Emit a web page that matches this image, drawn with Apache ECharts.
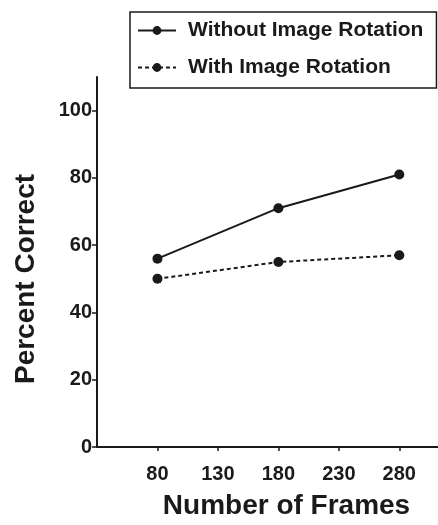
<!DOCTYPE html>
<html>
<head>
<meta charset="utf-8">
<script src="https://cdn.jsdelivr.net/npm/echarts@6/dist/echarts.min.js"></script>
<style>
  html, body { margin: 0; padding: 0; background: #fff; }
  #chart { width: 438px; height: 525px; }
</style>
</head>
<body>
<div id="chart"></div>
<script>
// values
var frames = [80, 180, 280]
var withoutRotation = [56, 71, 81]
var withRotation = [50, 55, 57]
var xTicks = [80, 130, 180, 230, 280]
var yTicks = [0, 20, 40, 60, 80, 100]

var ink = '#1a1a1a'
var font = 'Liberation Sans'

function pairs(xs, ys) {
  return xs.map(function(x, i) { return [x, ys[i]] })
}

var chart = echarts.init(document.getElementById('chart'))

chart.setOption({
  backgroundColor: '#fff',
  animation: false,
  legend: {
    left: 130,
    top: 12,
    orient: 'vertical',
    padding: [8, 13, 10, 7],
    itemGap: 16,
    itemWidth: 38,
    itemHeight: 11,
    borderColor: ink,
    borderWidth: 1.5,
    textStyle: {
      color: ink,
      fontFamily: font,
      fontWeight: 'bold',
      fontSize: 21,
      padding: [0, 0, 0, 7]
    },
    data: ['Without Image Rotation', 'With Image Rotation']
  },
  grid: {
    left: 97,
    right: 0,
    top: 77,
    bottom: 68
  },
  xAxis: {
    type: 'value',
    min: 30,
    max: 312,
    name: 'Number of Frames',
    nameLocation: 'middle',
    nameGap: 45,
    nameTextStyle: {
      color: ink,
      fontFamily: font,
      fontWeight: 'bold',
      fontSize: 28,
      padding: [0, 0, 0, 38]
    },
    splitLine: { show: false },
    axisLine: { lineStyle: { color: ink, width: 2 } },
    axisTick: {
      customValues: xTicks,
      length: 4,
      lineStyle: { color: ink, width: 1.5 }
    },
    axisLabel: {
      customValues: xTicks,
      margin: 17,
      color: ink,
      fontFamily: font,
      fontWeight: 'bold',
      fontSize: 20
    }
  },
  yAxis: {
    type: 'value',
    min: 0,
    max: 110,
    name: 'Percent Correct',
    nameLocation: 'middle',
    nameGap: 57,
    nameTextStyle: {
      color: ink,
      fontFamily: font,
      fontWeight: 'bold',
      fontSize: 28,
      padding: [0, 34, 0, 0]
    },
    splitLine: { show: false },
    axisLine: { show: true, lineStyle: { color: ink, width: 2 } },
    axisTick: {
      show: true,
      customValues: yTicks,
      length: 5,
      lineStyle: { color: ink, width: 1.5 }
    },
    axisLabel: {
      customValues: yTicks,
      margin: 5,
      color: ink,
      fontFamily: font,
      fontWeight: 'bold',
      fontSize: 20
    }
  },
  series: [
    {
      name: 'Without Image Rotation',
      type: 'line',
      data: pairs(frames, withoutRotation),
      symbol: 'circle',
      symbolSize: 10,
      itemStyle: { color: ink },
      lineStyle: { color: ink, width: 2 }
    },
    {
      name: 'With Image Rotation',
      type: 'line',
      data: pairs(frames, withRotation),
      symbol: 'circle',
      symbolSize: 10,
      itemStyle: { color: ink },
      lineStyle: { color: ink, width: 2, type: [4, 3] }
    }
  ]
})
</script>
</body>
</html>
